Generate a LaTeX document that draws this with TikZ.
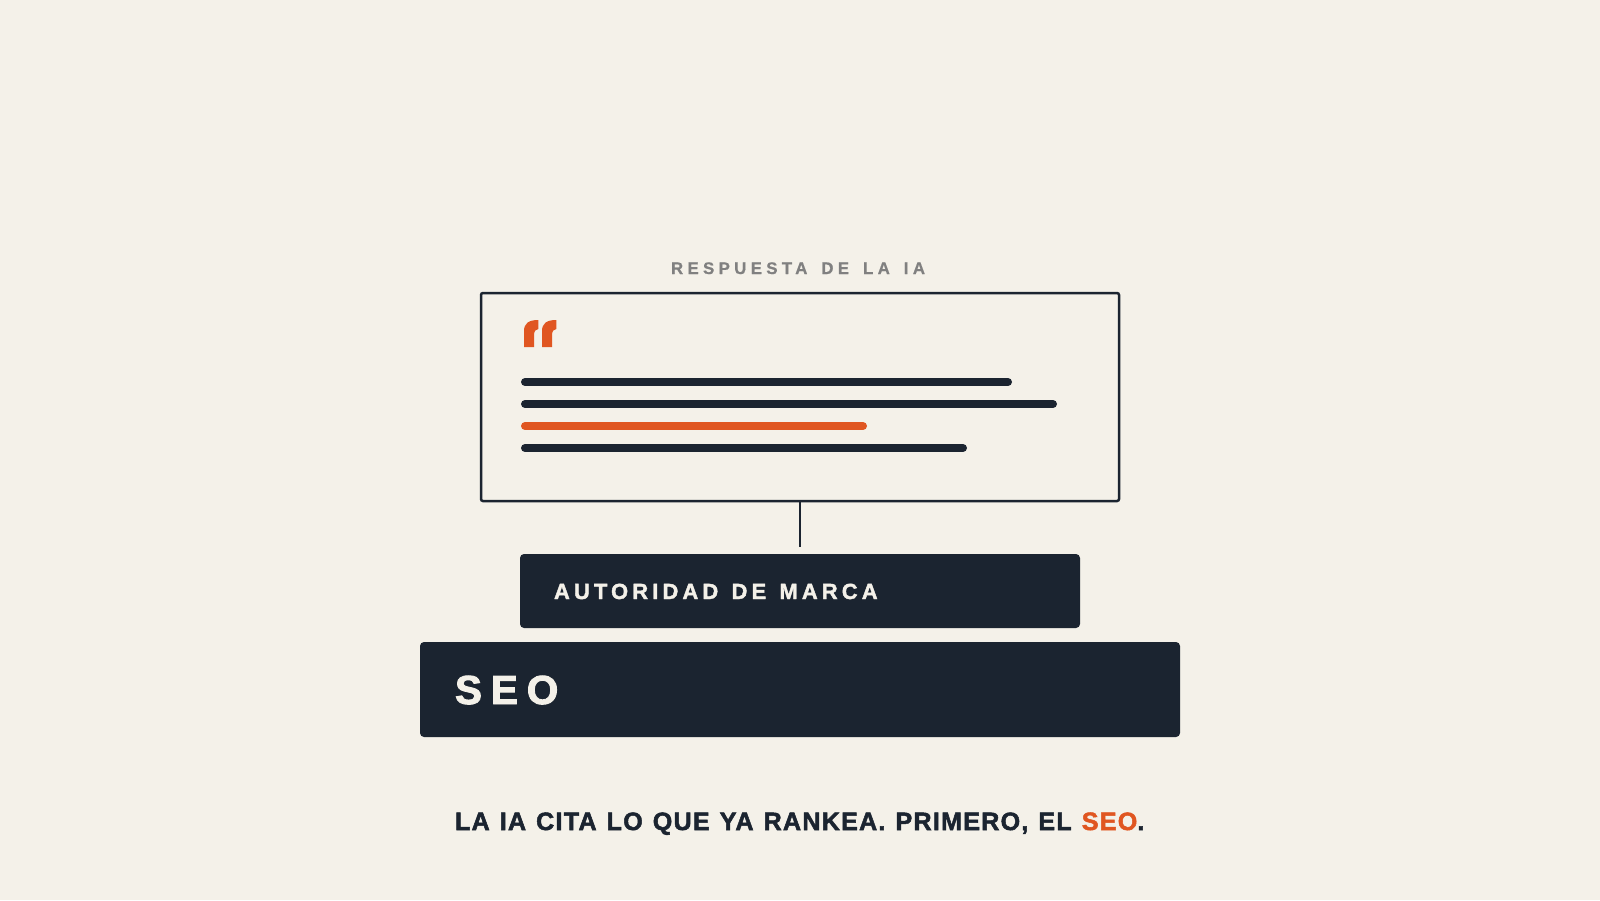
\documentclass[tikz,border=0pt]{standalone}
\usepackage{fontspec}
\setmainfont{Liberation Sans}
\newfontfamily\ttlfont{Liberation Sans}[LetterSpace=26,WordSpace=1.55,FakeBold=0.8]
\newfontfamily\authfont{Liberation Sans}[LetterSpace=19,WordSpace=1.3,FakeBold=1.8]
\newfontfamily\seofont{Liberation Sans}[LetterSpace=22,FakeBold=2.2]
\newfontfamily\footfont{Liberation Sans}[LetterSpace=5,WordSpace=1.22,FakeBold=2.0]
\definecolor{bg}{RGB}{244,241,233}
\definecolor{ink}{RGB}{27,36,48}
\definecolor{accent}{RGB}{224,86,33}
\definecolor{muted}{RGB}{128,128,128}
\begin{document}
\begin{tikzpicture}[x=0.5pt,y=-0.5pt,
  txt/.style={inner sep=0pt,outer sep=0pt,anchor=base west},
  bar/.style={line width=4pt,line cap=round,draw=ink},
  block/.style={fill=ink,rounded corners=2pt,inner sep=0pt,outer sep=0pt},
  frame/.style={draw=ink,line width=1.25pt,rounded corners=1pt,inner sep=0pt,outer sep=0pt}]
\fill[bg] (0,0) rectangle (1600,900);
\useasboundingbox (0,0) rectangle (1600,900);
% title
\node[txt,font=\ttlfont\bfseries\fontsize{8.4pt}{10pt}\selectfont,text=muted] (title) at (671,274) {RESPUESTA DE LA IA};
% response frame
\node[frame,minimum width=319pt,minimum height=104pt] (resp) at (800,397) {};
% quote mark
\foreach \dx in {0,18}{
  \fill[accent,shift={(\dx,0)}] (524,347) -- (524,331) .. controls (524,323.5) and (528.5,320) .. (538.3,320)
     -- (538.3,329) .. controls (535.8,329.2) and (534,331) .. (534,335) -- (534,347) -- cycle;
}
% text lines
\coordinate (l1a) at (525,382); \coordinate (l1b) at (1008,382);
\coordinate (l2a) at (525,404); \coordinate (l2b) at (1053,404);
\coordinate (l3a) at (525,426); \coordinate (l3b) at (863,426);
\coordinate (l4a) at (525,448); \coordinate (l4b) at (963,448);
\draw[bar] (l1a) -- (l1b);
\draw[bar] (l2a) -- (l2b);
\draw[bar,draw=accent] (l3a) -- (l3b);
\draw[bar] (l4a) -- (l4b);
% blocks
\node[block,minimum width=280pt,minimum height=37pt] (auth) at (800,591) {};
\node[block,minimum width=380pt,minimum height=47.5pt] (seo) at (800,689.5) {};
\node[txt,font=\authfont\bfseries\fontsize{10.95pt}{13pt}\selectfont,text=bg] (authtxt) at (554,599) {AUTORIDAD DE MARCA};
\node[txt,font=\seofont\bfseries\fontsize{20.25pt}{24pt}\selectfont,text=bg] (seotxt) at (455,704) {SEO};
% connector
\draw[draw=ink,line width=1.25pt,shorten >=3.5pt] (resp.south) -- (auth.north);
% footer
\node[txt,font=\footfont\bfseries\fontsize{12.55pt}{15pt}\selectfont,text=ink] (foot) at (455,830) {LA IA CITA LO QUE YA RANKEA. PRIMERO, EL \textcolor{accent}{SEO}.};
\end{tikzpicture}
\end{document}
